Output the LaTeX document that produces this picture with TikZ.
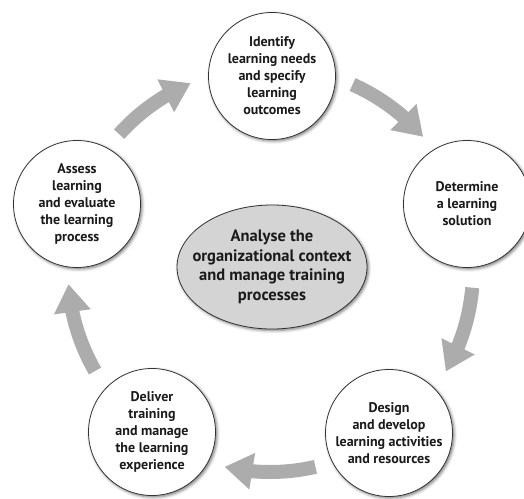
\documentclass[tikz,border=0pt]{standalone}
\usepackage{fontspec}
\setmainfont{PT Sans}
\usetikzlibrary{shapes.geometric,arrows.meta,bending,shadows.blur}
\definecolor{arrowgray}{RGB}{172,172,172}
\definecolor{ovalgray}{RGB}{212,212,212}
\definecolor{txt}{RGB}{26,26,26}
\begin{document}
\begin{tikzpicture}[x=1pt,y=1pt,
  stage/.style={circle, draw=black!80, line width=0.8pt, fill=white,
    minimum size=127pt, inner sep=0pt, align=center, text=txt,
    font=\fontsize{14}{17}\selectfont\bfseries,
    blur shadow={shadow xshift=1.5pt, shadow yshift=-1.5pt, shadow blur radius=3pt, shadow opacity=55}},
  hub/.style={ellipse, draw=black!80, line width=0.8pt, fill=ovalgray,
    minimum width=190pt, minimum height=124pt, inner sep=0pt,
    blur shadow={shadow xshift=1.5pt, shadow yshift=-1.5pt, shadow blur radius=3pt, shadow opacity=55}},
  hubtext/.style={inner sep=0pt, align=center, text=txt,
    font=\fontsize{16.5}{19.5}\selectfont\bfseries},
  bigarrow/.style={draw=arrowgray, line width=14pt,
    -{Triangle[length=28pt,width=35pt]}}
]
\useasboundingbox (0,0) rectangle (524,-498);
\clip (0,0) rectangle (524,-498);

\coordinate (O) at (270,-270);

\node[hub] (hub) at (272,-267) {};
\node[hubtext] (hubtxt) at (hub.center) {Analyse the\\organizational context\\and manage training\\processes};

\node[stage] (identify) at (272,-76) {Identify\\learning needs\\and specify\\learning\\outcomes};
\node[stage] (determine) at (467,-204) {Determine\\a learning\\solution};
\node[stage] (design) at (389,-433) {Design\\and develop\\learning activities\\and resources};
\node[stage] (deliver) at (152,-432) {Deliver\\training\\and manage\\the learning\\experience};
\node[stage] (assess) at (77,-204) {Assess\\learning\\and evaluate\\the learning\\process};

\coordinate (a1) at ([shift={(138:203)}]O);
\coordinate (a2) at ([shift={(66:203)}]O);
\coordinate (a3) at ([shift={(-5:203)}]O);
\coordinate (a4) at ([shift={(-77:202)}]O);
\coordinate (a5) at ([shift={(-150:202)}]O);

\draw[bigarrow] (a1) arc[start angle=138, end angle=113, radius=203];
\draw[bigarrow] (a2) arc[start angle=66, end angle=41, radius=203];
\draw[bigarrow] (a3) arc[start angle=-5, end angle=-30, radius=203];
\draw[bigarrow] (a4) arc[start angle=-77, end angle=-103, radius=202];
\draw[bigarrow] (a5) arc[start angle=-150, end angle=-176, radius=202];
\end{tikzpicture}
\end{document}
